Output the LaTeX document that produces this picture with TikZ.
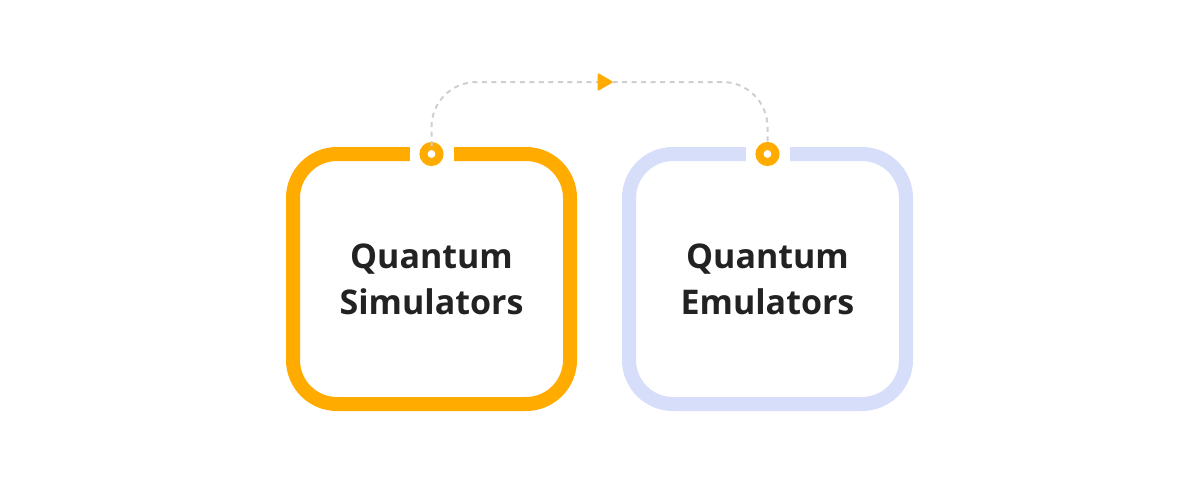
\documentclass[tikz,border=0pt]{standalone}
\usepackage{fontspec}
\setmainfont{Open Sans}
\usetikzlibrary{arrows.meta,calc}
\definecolor{simorange}{HTML}{FFAB00}
\definecolor{emublue}{HTML}{D6DEFA}
\definecolor{linkgray}{HTML}{CFCFCF}
\definecolor{labeltext}{HTML}{222222}
\tikzset{
  boxframe/.style={rectangle, rounded corners=44pt, minimum width=277pt, minimum height=250pt, line width=14pt, outer sep=0pt, fill=white},
  boxlabel/.style={align=center, font=\fontsize{34}{46}\selectfont\bfseries, text=labeltext},
  portgap/.style={rectangle, fill=white, minimum width=44pt, minimum height=20pt, inner sep=0pt},
  port/.style={circle, draw=simorange, line width=8pt, fill=white, minimum size=16pt, inner sep=0pt, outer sep=0pt},
  link/.style={draw=linkgray, line width=2pt, dash pattern=on 5pt off 4.5pt},
  linktip/.style={-{Triangle[length=16pt, width=18pt, round, color=simorange]}}
}
\begin{document}
\begin{tikzpicture}[x=1pt, y=-1pt]
\useasboundingbox (0,0) rectangle (1200,480);
% boxes
\node (simbox) [boxframe, draw=simorange] at (431.5,279) {};
\node (emubox) [boxframe, draw=emublue] at (767.5,279) {};
\node (simlabel) [boxlabel] at (simbox.center) {Quantum\\Simulators};
\node (emulabel) [boxlabel] at (emubox.center) {Quantum\\Emulators};
% ports on the top edges
\node (simgap) [portgap] at (simbox.north) {};
\node (emugap) [portgap] at (emubox.north) {};
\node (simport) [port] at (simbox.north) {};
\node (emuport) [port] at (emubox.north) {};
% dashed link
\coordinate (linkmid) at ($(simport)!.5!(emuport) + (13,-72)$);
\draw [link, linktip, rounded corners=45pt] (simport.north) |- (linkmid);
\draw [link, rounded corners=45pt] (linkmid) -| (emuport.north);
\end{tikzpicture}
\end{document}
